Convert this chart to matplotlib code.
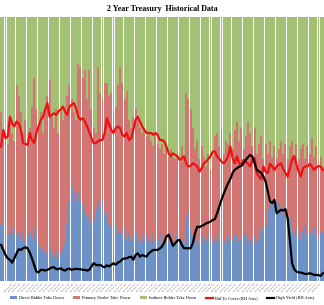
import numpy as np
import pandas as pd
import matplotlib
matplotlib.use("Agg")
import matplotlib.pyplot as plt

# take-down shares per auction (percent of total)
direct = [22, 21, 19, 17, 18, 20, 18, 17, 19, 16,
          18, 15, 17, 19, 16, 20, 17, 14, 12, 13,
          11, 10, 12, 10, 9, 11, 9, 10, 12, 14,
          22, 30, 36, 33, 30, 34, 31, 29, 26, 24,
          25, 22, 23, 27, 30, 28, 31, 25, 26, 22,
          20, 19, 21, 18, 19, 17, 20, 16, 18, 15,
          17, 19, 16, 14, 17, 15, 18, 16, 14, 17,
          15, 16, 18, 14, 16, 17, 15, 18, 16, 14,
          17, 15, 16, 14, 24, 26, 20, 17, 15, 16,
          14, 17, 15, 16, 18, 15, 14, 16, 17, 15,
          18, 16, 14, 17, 16, 15, 18, 17, 15, 16,
          18, 17, 15, 16, 14, 17, 15, 16, 20, 19,
          21, 27, 29, 30, 28, 30, 29, 27, 28, 25,
          22, 24, 19, 17, 20, 18, 16, 19, 21, 17,
          19, 18, 20, 17, 16, 18, 19]

primary = [42, 32, 37, 35, 43, 36, 35, 57, 51, 48,
           38, 46, 36, 39, 50, 57, 48, 44, 52, 43,
           54, 60, 64, 52, 49, 54, 47, 54, 49, 52,
           48, 44, 33, 31, 31, 48, 50, 48, 54, 45,
           55, 43, 35, 29, 51, 43, 38, 50, 49, 48,
           51, 45, 45, 56, 62, 58, 49, 56, 43, 43,
           45, 46, 45, 44, 39, 43, 37, 40, 39, 34,
           41, 36, 32, 38, 32, 34, 32, 32, 31, 32,
           31, 30, 35, 32, 47, 43, 45, 41, 35, 37,
           32, 34, 32, 27, 30, 27, 33, 39, 39, 36,
           39, 32, 39, 35, 40, 35, 39, 43, 38, 42,
           32, 38, 45, 40, 37, 41, 33, 36, 35, 27,
           31, 21, 24, 17, 23, 16, 21, 26, 20, 27,
           24, 27, 34, 30, 32, 28, 34, 33, 25, 34,
           29, 36, 27, 34, 29, 29, 24]

indirect = [36, 47, 44, 48, 39, 44, 47, 26, 30, 36,
            44, 39, 47, 42, 34, 23, 35, 42, 36, 44,
            35, 30, 24, 38, 42, 35, 44, 36, 39, 34,
            30, 26, 31, 36, 39, 18, 19, 23, 20, 31,
            20, 35, 42, 44, 19, 29, 31, 25, 25, 30,
            29, 36, 34, 26, 19, 25, 31, 28, 39, 42,
            38, 35, 39, 42, 44, 42, 45, 44, 47, 49,
            44, 48, 50, 48, 52, 49, 53, 50, 53, 54,
            52, 55, 49, 54, 29, 31, 35, 42, 50, 47,
            54, 49, 53, 57, 52, 58, 53, 45, 44, 49,
            43, 52, 47, 48, 44, 50, 43, 40, 47, 42,
            50, 45, 40, 44, 49, 42, 52, 48, 45, 54,
            48, 52, 47, 53, 49, 54, 50, 47, 52, 48,
            54, 49, 47, 53, 48, 54, 50, 48, 54, 49,
            52, 46, 53, 49, 55, 53, 57]

bid_to_cover = [3.05, 3.43, 3.24, 3.28, 3.73, 3.58, 3.51, 3.62, 3.58, 3.43,
                3.13, 3.11, 3.09, 3.36, 3.20, 3.13, 3.36, 3.51, 3.66, 3.73,
                3.89, 4.04, 3.73, 3.77, 3.81, 3.77, 3.85, 3.89, 3.96, 3.85,
                3.77, 3.96, 4.00, 4.04, 3.92, 3.73, 3.66, 3.70, 3.62, 3.51,
                3.39, 3.24, 3.13, 3.13, 3.17, 3.20, 3.20, 3.36, 3.70, 3.55,
                3.43, 3.36, 3.47, 3.51, 3.47, 3.32, 3.28, 3.36, 3.20, 3.24,
                3.43, 3.66, 3.73, 3.62, 3.51, 3.43, 3.36, 3.36, 3.36, 3.32,
                3.36, 3.32, 3.20, 3.20, 3.17, 3.05, 2.90, 2.83, 2.90, 2.86,
                2.83, 2.75, 2.79, 2.83, 2.67, 2.60, 2.61, 2.67, 2.64, 2.60,
                2.48, 2.56, 2.67, 2.71, 2.77, 2.83, 2.94, 2.94, 2.83, 2.77,
                2.71, 2.67, 2.73, 2.83, 3.05, 2.79, 2.67, 2.83, 2.67, 2.64,
                2.75, 2.71, 2.66, 2.60, 2.75, 2.79, 2.45, 2.37, 2.31, 2.60,
                2.48, 2.45, 2.66, 2.60, 2.52, 2.60, 2.64, 2.67, 2.54, 2.45,
                2.37, 2.56, 2.75, 2.84, 2.64, 2.48, 2.37, 2.56, 2.60, 2.60,
                2.66, 2.60, 2.52, 2.58, 2.61, 2.60, 2.52]

high_yield = [1.50, 1.29, 1.08, 0.94, 0.88, 0.76, 0.94, 1.15, 1.32, 1.29,
              1.36, 1.40, 1.36, 1.18, 0.94, 0.67, 0.39, 0.35, 0.46, 0.46,
              0.43, 0.46, 0.51, 0.56, 0.57, 0.49, 0.49, 0.53, 0.46, 0.43,
              0.49, 0.51, 0.46, 0.49, 0.50, 0.49, 0.49, 0.46, 0.46, 0.43,
              0.46, 0.60, 0.74, 0.67, 0.65, 0.67, 0.60, 0.57, 0.65, 0.60,
              0.67, 0.74, 0.67, 0.76, 0.81, 0.90, 0.94, 0.94, 0.99, 1.01,
              0.88, 1.08, 1.15, 1.01, 1.08, 1.04, 1.01, 1.15, 1.22, 1.29,
              1.29, 1.29, 1.35, 1.43, 1.60, 1.85, 1.92, 1.71, 1.46, 1.57,
              1.68, 1.71, 1.50, 1.36, 1.36, 1.36, 1.36, 1.57, 1.99, 2.26,
              2.24, 2.29, 2.33, 2.40, 2.43, 2.47, 2.54, 2.57, 2.82, 3.10,
              3.38, 3.63, 3.86, 4.07, 4.24, 4.49, 4.63, 4.69, 4.76, 4.79,
              4.90, 5.04, 5.15, 5.25, 5.18, 4.90, 4.63, 4.56, 4.49, 4.35,
              4.14, 3.72, 3.31, 3.24, 3.38, 2.82, 2.89, 2.96, 2.93, 2.99,
              2.61, 1.71, 0.74, 0.49, 0.39, 0.35, 0.35, 0.32, 0.29, 0.29,
              0.32, 0.29, 0.25, 0.25, 0.24, 0.21, 0.32]

n = len(direct)
auction_dates = pd.date_range("1999-01-31", periods=n, freq="ME").strftime("%m/%d/%Y")

x = np.arange(n)
d = np.array(direct, float)
p = np.array(primary, float)
ind = np.array(indirect, float)
tot = d + p + ind
d, p, ind = d / tot * 100, p / tot * 100, ind / tot * 100

fig = plt.figure(figsize=(3.24, 3.05), dpi=100)
ax = fig.add_axes([0.0, 0.079, 1.0, 0.866])

w = 0.88
ax.bar(x, d, w, color="#6f92c6", label="Direct Bidder Take Down")
ax.bar(x, p, w, bottom=d, color="#d27673", label="Primary Dealer Take Down")
ax.bar(x, ind, w, bottom=d + p, color="#a2c175", label="Indirect Bidder Take Down")
ax.set_xlim(-0.5, n - 0.5)
ax.set_ylim(0, 100)
ax.set_yticks([])
ax.set_xticks(x[5::2])
ax.set_xticklabels(auction_dates[5::2], rotation=45, fontsize=1.6, color="#666666",
                   ha="right", rotation_mode="anchor")
ax.tick_params(axis="x", length=0, pad=1.0)
for s in ax.spines.values():
    s.set_visible(False)

ax2 = ax.twinx()
ax2.plot(x, bid_to_cover, color="#ee1111", lw=1.6, label="Bid To Cover (RH Axis)")
ax2.set_ylim(0, 6)
ax2.axis("off")

ax3 = ax.twinx()
ax3.plot(x, high_yield, color="black", lw=1.6, label="High Yield (RH Axis)")
ax3.set_ylim(0, 11)
ax3.axis("off")

fig.text(0.5, 0.97, "2 Year Treasury  Historical Data", ha="center", va="center",
         fontsize=5.8, fontweight="bold", family="Liberation Serif")

h1, l1 = ax.get_legend_handles_labels()
h2, l2 = ax2.get_legend_handles_labels()
h3, l3 = ax3.get_legend_handles_labels()
fig.legend(h1 + h2 + h3, l1 + l2 + l3, loc="center", bbox_to_anchor=(0.5, 0.022),
           ncol=5, frameon=False, prop={"family": "Liberation Serif", "size": 3.2},
           handlelength=1.6, handleheight=0.5, columnspacing=2.2, handletextpad=0.4)

fig.savefig("out.png", dpi=100)
